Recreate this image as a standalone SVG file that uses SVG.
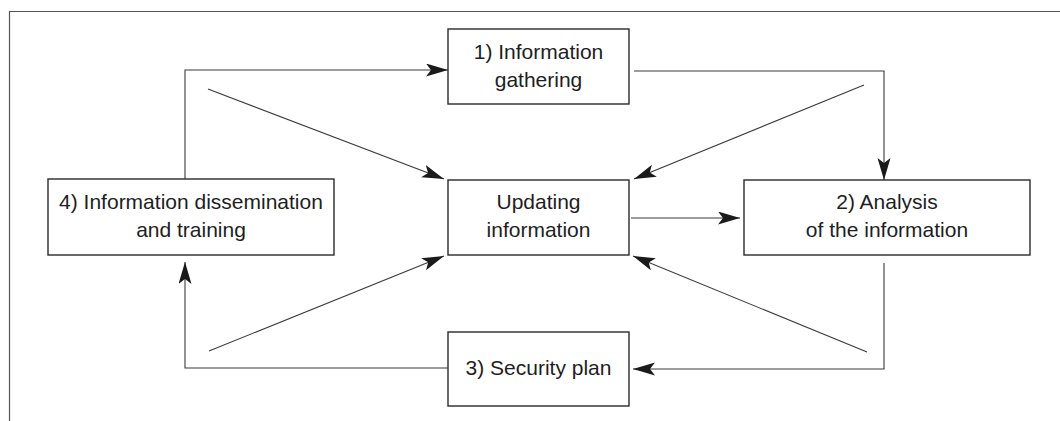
<svg xmlns="http://www.w3.org/2000/svg" width="1060" height="421" viewBox="0 0 1060 421">
<style>
.box{fill:#fff;stroke:#2a2a2a;stroke-width:1.4}
.t{font-family:"Liberation Sans",Arial,sans-serif;font-size:21px;fill:#1e1e1e;text-anchor:middle}
.c{fill:none;stroke:#3a3a3a;stroke-width:1.1}
.frame{fill:none;stroke:#555;stroke-width:1.2}
</style>
<defs>
<marker id="ah" markerUnits="userSpaceOnUse" markerWidth="24" markerHeight="15" refX="22" refY="6.5" orient="auto">
<path d="M0,0 L22,6.5 L0,13 L5,6.5 Z" fill="#1a1a1a"/>
</marker>
</defs>
<path class="frame" d="M9.5,421 V11.5 H1060"/>
<g id="connectors">
<path class="c" d="M185,179 V70 H448" marker-end="url(#ah)"/>
<path class="c" d="M634,71 H884 V180" marker-end="url(#ah)"/>
<path class="c" d="M208,89 L444,179" marker-end="url(#ah)"/>
<path class="c" d="M864,85 L634,179" marker-end="url(#ah)"/>
<path class="c" d="M631,218 H740" marker-end="url(#ah)"/>
<path class="c" d="M884,263 V369 H633" marker-end="url(#ah)"/>
<path class="c" d="M448,368 H185 V262" marker-end="url(#ah)"/>
<path class="c" d="M209,351 L444,256" marker-end="url(#ah)"/>
<path class="c" d="M867,352 L633,256" marker-end="url(#ah)"/>
</g>
<g id="n1">
<rect class="box" x="448" y="29" width="181" height="75"/>
<text class="t" x="538.5" y="59">1) Information</text>
<text class="t" x="538.5" y="87">gathering</text>
</g>
<g id="n-update">
<rect class="box" x="448" y="180" width="181" height="75"/>
<text class="t" x="538.5" y="209">Updating</text>
<text class="t" x="538.5" y="237">information</text>
</g>
<g id="n2">
<rect class="box" x="744" y="180" width="286" height="75"/>
<text class="t" x="887" y="209">2) Analysis</text>
<text class="t" x="887" y="237">of the information</text>
</g>
<g id="n4">
<rect class="box" x="48" y="179" width="286" height="76"/>
<text class="t" x="191" y="209">4) Information dissemination</text>
<text class="t" x="191" y="237">and training</text>
</g>
<g id="n3">
<rect class="box" x="448" y="332" width="181" height="74"/>
<text class="t" x="538.5" y="375">3) Security plan</text>
</g>
</svg>
